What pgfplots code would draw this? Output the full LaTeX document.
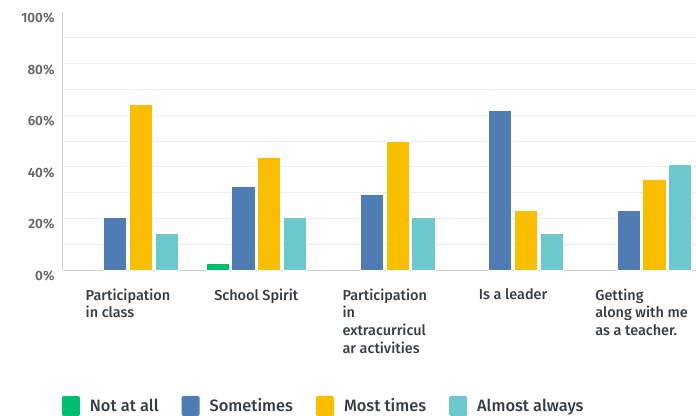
\documentclass[border=0pt]{standalone}
\usepackage{fontspec}
\setmainfont{Fira Sans}[BoldFont={Fira Sans SemiBold}]
\newfontfamily\firamed{Fira Sans Medium}
\usepackage{pgfplots}
\pgfplotsset{compat=1.18}
\usetikzlibrary{calc}

\definecolor{cNot}{HTML}{00BF6F}
\definecolor{cSome}{HTML}{507CB6}
\definecolor{cMost}{HTML}{F9BE00}
\definecolor{cAlm}{HTML}{6BC8CD}
\definecolor{gridc}{HTML}{EDEDED}
\definecolor{axc}{HTML}{D0D0D0}
\definecolor{tickc}{HTML}{666666}
\definecolor{labc}{HTML}{333E48}

\pgfplotsset{
  sqleg/.style={legend image code/.code={
    \fill[##1, draw=none, rounded corners=2bp] (0bp,-10bp) rectangle (18bp,10bp);}},
}

\begin{document}
\begin{tikzpicture}
\begin{axis}[
  name=ax, at={(0,0)}, anchor=south west,
  scale only axis, width=633bp, height=258bp,
  ybar=2.6bp, bar width=23.2bp,
  xmin=-0.506, xmax=4.424,
  ymin=0, ymax=100,
  xtick={0,...,4},
  xticklabels={{Participation\\in class},{School Spirit},{Participation\\in\\extracurricul\\ar activities},{Is a leader},{Getting\\along with me\\as a teacher.}},
  ytick={0,10,...,90},
  yticklabels={0\%,,20\%,,40\%,,60\%,,80\%,},
  extra y ticks={100}, extra y tick labels={100\%},
  extra y tick style={grid=none},
  ymajorgrids, grid style={gridc, line width=1bp},
  axis x line*=bottom, axis y line*=left,
  axis line style={axc, line width=1bp, -},
  major tick length=0pt,
  yticklabel style={font=\bfseries\fontsize{13.5}{13.5}\selectfont, text=tickc, xshift=-5bp, yshift=-6bp},
  xticklabel style={font=\firamed\fontsize{14.5}{18}\selectfont, text=labc, align=left, yshift=-15bp},
  legend columns=4,
  legend cell align=left,
  legend style={at={(-0.002,-0.527)}, anchor=west, draw=none, fill=none,
    font=\firamed\fontsize{16.5}{18}\selectfont, text=labc, inner sep=0pt,
    /tikz/every odd column/.append style={column sep=8bp},
    /tikz/every even column/.append style={column sep=21bp}},
  every axis plot/.append style={draw=white, line width=0.8bp},
]
\addplot[fill=cNot, sqleg] coordinates {(1,2.6)};
\addplot[fill=cSome, sqleg] coordinates {(0,20.3) (1,32.3) (2,29.3) (3,61.9) (4,23.1)};
\addplot[fill=cMost, sqleg] coordinates {(0,64.3) (1,43.8) (2,49.9) (3,23.1) (4,35.3)};
\addplot[fill=cAlm, sqleg] coordinates {(0,14.2) (1,20.3) (2,20.3) (3,14.2) (4,40.8)};
\legend{Not at all, Sometimes, Most times, Almost always}
\end{axis}
\pgfresetboundingbox
\path[use as bounding box] ($(ax.south west)+(-63bp,-146bp)$) rectangle ($(ax.north east)+(0bp,12bp)$);
\end{tikzpicture}
\end{document}
